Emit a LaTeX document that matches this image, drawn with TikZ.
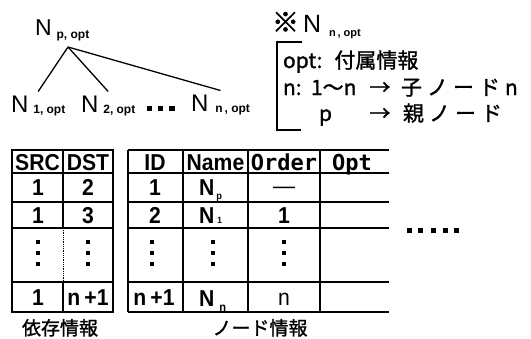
\documentclass[tikz,border=0pt]{standalone}
\usepackage{fontspec}
\setmainfont{Liberation Sans}
\newfontfamily\jpf{Noto Sans CJK JP}[FakeBold=1.2]
\newfontfamily\jpk{Noto Sans CJK JP}[FakeBold=2]
\newfontfamily\monof{DejaVu Sans Mono}
\newfontfamily\tabf{Liberation Sans}[FakeStretch=0.92]
\newcommand{\fs}[1]{\fontsize{#1}{#1}\selectfont}
\newcommand{\bigN}[1]{{\fs{24}N}\hspace{5pt}\raisebox{-1pt}{\fs{12}\bfseries #1}}
\newcommand{\wsp}[1]{#1\hspace{5pt}}
\tikzset{
  lbl/.style={inner sep=0pt, outer sep=0pt, anchor=base},
  lblw/.style={inner sep=0pt, outer sep=0pt, anchor=base west},
  child/.style={inner xsep=0pt, inner ysep=4pt, outer sep=0pt, anchor=base west},
  edge/.style={line width=1.3pt},
  grid/.style={line width=1.2pt},
  dotgrid/.style={line width=0.8pt, densely dotted},
  sq/.style={fill=black, draw=none},
  tab/.style={lbl, font=\tabf\bfseries\fs{23}},
}
\begin{document}
\begin{tikzpicture}[x=1pt,y=-1pt]
\useasboundingbox (0,0) rectangle (531,338);
% ---------- tree ----------
\node[lblw] (root) at (35,35) {{\fs{23}N}\hspace{5pt}\raisebox{-3pt}{\fs{12}\bfseries p, opt}};
\coordinate (apex) at (68,47);
\node[child] (c1) at (11,112) {\bigN{1, opt}};
\node[child] (c2) at (81,112) {\bigN{2, opt}};
\node[child] (cn) at (191,111) {{\fs{24}N}\hspace{7pt}\raisebox{-1pt}{\fs{12}\bfseries n\,, opt}};
\draw[edge] (apex) -- (c1.north);
\draw[edge] (apex) -- (c2.north);
\draw[edge] (apex) -- (cn.north);
\foreach \x in {149.5,160.5,172} \fill[sq] (\x-2.6,105.5) rectangle (\x+2.6,110.5);
% ---------- legend ----------
\node[lblw] (kome) at (272,32) {\jpk\fs{27}※};
\node[lblw] (legN) at (303,32) {{\fs{25}N}\hspace{8pt}\raisebox{-4pt}{\fs{11}\bfseries n\,, opt}};
\draw[line width=1.1pt] (302,42) -- (277,42) -- (277,130) -- (301,130);
\node[lblw] (l1) at (283,68) {\jpf\fs{21}opt:\hspace{12pt}付属情報};
\node[lblw] (l2a) at (283,95) {\jpf\fs{21}n:};
\node[lblw] (l2b) at (311,95) {\jpf\fs{21}1〜n};
\node[lbl] (l2c) at (380,95) {\jpf\fs{21}→};
\node[lblw] (l2d) at (401,95) {\jpf\fs{21}\wsp{子}\wsp{ノ}\wsp{ー}\wsp{ド}n};
\node[lblw] (l3a) at (319,121) {\jpf\fs{21}p};
\node[lbl] (l3b) at (380,121) {\jpf\fs{21}→};
\node[lblw] (l3c) at (403,121) {\jpf\fs{21}\wsp{親}\wsp{ノ}\wsp{ー}ド};
% ---------- table 1 ----------
\draw[grid] (12,150) rectangle (113,312);
\foreach \y in {173,202,228,282} \draw[grid] (12,\y) -- (113,\y);
\draw[grid] (63,150) -- (63,228);
\draw[dotgrid] (63,228) -- (63,282);
\draw[grid] (63,282) -- (63,312);
\node[tab] (src) at (37.5,170) {SRC};
\node[tab] (dst) at (88,170) {DST};
\node[tab] (s1) at (38,195) {1};
\node[tab] (d1) at (88,195) {2};
\node[tab] (s2) at (38,223) {1};
\node[tab] (d2) at (88,223) {3};
\node[tab] (s4) at (38,305) {1};
\node[tab] (d4) at (88,305) {n\hspace{4pt}+1};
\node[lbl] (lab1) at (60,335) {\jpf\fs{19}依存情報};
% ---------- table 2 ----------
\draw[grid] (128,150) -- (128,312);
\foreach \y in {150,173,202,228,282,312} \draw[grid] (128,\y) -- (389,\y);
\foreach \x in {183,248,320} \draw[grid] (\x,150) -- (\x,312);
\node[tab] (hid) at (155,170) {ID};
\node[tab] (hname) at (215.5,170) {Name};
\node[lbl] (hord) at (284,170) {\monof\bfseries\fs{22}Order};
\node[lbl] (hopt) at (352,170) {\monof\bfseries\fs{22}Opt};
\node[tab] (i1) at (155,195) {1};
\node[tab] (i2) at (155,223) {2};
\node[tab] (i4) at (154,305) {n\hspace{4pt}+1};
\node[lblw] (n1) at (199,195) {\tabf\bfseries\fs{23}N\hspace{2pt}\raisebox{-4pt}{\fs{10}p}};
\node[lblw] (n2) at (199,223) {\tabf\bfseries\fs{23}N\hspace{3pt}{\fs{9}1}};
\node[lblw] (n4) at (199,306) {\tabf\bfseries\fs{23}N\hspace{5pt}\raisebox{-5pt}{\fs{12}n}};
\node[inner sep=0pt] (o1) at (284,190) {\fs{22}—};
\node[tab] (o2) at (284,223) {1};
\node[tab] (o4) at (284,305) {\tabf\mdseries\fs{23}n};
\foreach \x in {38,88,152,213,284}
  \foreach \y in {242,253,264}
    \fill[sq] (\x-2.2,\y-2.2) rectangle (\x+2.2,\y+2.2);
\node[lbl] (lab2) at (260,335) {\jpf\fs{19}ノード情報};
\foreach \x in {409.5,420.5,433.5,445.5,456.5} \fill[sq] (\x-2.3,228.2) rectangle (\x+2.3,232.8);
\end{tikzpicture}
\end{document}
